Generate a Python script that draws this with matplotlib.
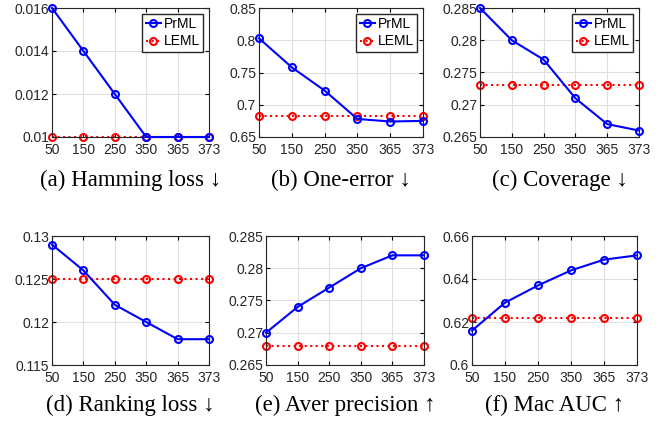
import matplotlib.pyplot as plt
import numpy as np

W, H = 661, 424
plt.rcParams['font.family'] = ['Liberation Sans', 'DejaVu Sans']

x_labels = ["50", "150", "250", "350", "365", "373"]

hamming_prml = [0.016, 0.014, 0.012, 0.010, 0.010, 0.010]
hamming_leml = [0.010] * 6
oneerr_prml = [0.803, 0.758, 0.722, 0.678, 0.674, 0.675]
oneerr_leml = [0.683] * 6
coverage_prml = [0.285, 0.280, 0.277, 0.271, 0.267, 0.266]
coverage_leml = [0.273] * 6
ranking_prml = [0.129, 0.126, 0.122, 0.120, 0.118, 0.118]
ranking_leml = [0.125] * 6
averprec_prml = [0.270, 0.274, 0.277, 0.280, 0.282, 0.282]
averprec_leml = [0.268] * 6
macauc_prml = [0.616, 0.629, 0.637, 0.644, 0.649, 0.651]
macauc_leml = [0.622] * 6

captions = [u"(a) Hamming loss \u2193", u"(b) One-error \u2193", u"(c) Coverage \u2193",
            u"(d) Ranking loss \u2193", u"(e) Aver precision \u2191", u"(f) Mac AUC \u2191"]

panels = [
    # (prml, leml, ylim, yticks, yticklabels, pixel box [l, t, r, b], legend)
    (hamming_prml, hamming_leml, (0.01, 0.016), [0.01, 0.012, 0.014, 0.016],
     ["0.01", "0.012", "0.014", "0.016"], [52, 8, 209, 137], True),
    (oneerr_prml, oneerr_leml, (0.65, 0.85), [0.65, 0.7, 0.75, 0.8, 0.85],
     ["0.65", "0.7", "0.75", "0.8", "0.85"], [259, 8, 423, 137], True),
    (coverage_prml, coverage_leml, (0.265, 0.285), [0.265, 0.27, 0.275, 0.28, 0.285],
     ["0.265", "0.27", "0.275", "0.28", "0.285"], [480, 8, 639, 137], True),
    (ranking_prml, ranking_leml, (0.115, 0.13), [0.115, 0.12, 0.125, 0.13],
     ["0.115", "0.12", "0.125", "0.13"], [52, 236, 209, 365], False),
    (averprec_prml, averprec_leml, (0.265, 0.285), [0.265, 0.27, 0.275, 0.28, 0.285],
     ["0.265", "0.27", "0.275", "0.28", "0.285"], [266, 236, 424, 365], False),
    (macauc_prml, macauc_leml, (0.6, 0.66), [0.6, 0.62, 0.64, 0.66],
     ["0.6", "0.62", "0.64", "0.66"], [472, 236, 637, 365], False),
]

fig = plt.figure(figsize=(W / 100, H / 100), dpi=100)
xs = np.arange(len(x_labels))

for i, (prml, leml, ylim, yt, ytl, box, leg) in enumerate(panels):
    l, t, r, b = box
    ax = fig.add_axes([l / W, 1 - b / H, (r - l) / W, (b - t) / H])
    ax.plot(xs, prml, color="blue", linestyle="-", marker="o", markersize=5,
            markerfacecolor="none", markeredgewidth=1.5, linewidth=1.5, label="PrML",
            clip_on=False, zorder=3)
    ax.plot(xs, leml, color="red", linestyle=":", marker="o", markersize=5,
            markerfacecolor="none", markeredgewidth=1.5, linewidth=1.5, label="LEML",
            clip_on=False, zorder=2)
    ax.set_xlim(0, len(x_labels) - 1)
    ax.set_ylim(*ylim)
    ax.set_xticks(xs)
    ax.set_xticklabels(x_labels)
    ax.set_yticks(yt)
    ax.set_yticklabels(ytl)
    ax.tick_params(direction="in", top=True, right=True, labelsize=10,
                   labelcolor="#262626", length=3)
    ax.tick_params(axis="x", pad=4)
    ax.tick_params(axis="y", pad=2)
    ax.grid(color="#e0e0e0", linewidth=0.8)
    ax.set_axisbelow(True)
    for s in ax.spines.values():
        s.set_color("#262626")
    if leg:
        ax.legend(loc="upper right", fontsize=10, handlelength=1.1, handletextpad=0.2,
                  borderpad=0.25, labelspacing=0.25, borderaxespad=0.4,
                  fancybox=False, edgecolor="#262626", framealpha=1)
    cy = 180 if i < 3 else 405
    fig.text((l + r) / 2 / W, 1 - cy / H, captions[i], ha="center", va="center",
             fontsize=16.5, family=["Liberation Serif", "DejaVu Serif"])

fig.savefig("out.png", dpi=100)
